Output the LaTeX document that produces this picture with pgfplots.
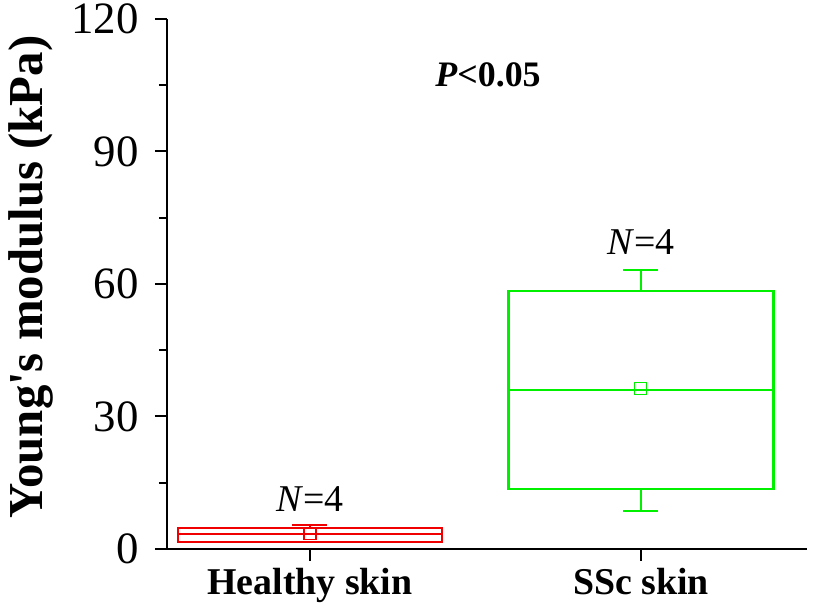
\documentclass[border=0pt]{standalone}
\usepackage{pgfplots}
\pgfplotsset{compat=1.18}
\usepackage{fontspec}
\setmainfont{Liberation Serif}
\definecolor{bred}{RGB}{240,0,0}
\definecolor{bgreen}{RGB}{0,240,0}
\begin{document}
\begin{tikzpicture}
\begin{axis}[name=ax, scale only axis, width=640bp, height=530bp,
  xmin=0.568, xmax=2.502, ymin=0, ymax=120,
  axis x line*=bottom, axis y line*=left,
  axis line style={line width=2.8bp, black},
  ytick={0,30,60,90,120}, minor ytick={15,45,75,105},
  xtick={1,2}, xticklabels={Healthy skin, SSc skin},
  tick align=outside, major tick length=12bp, minor tick length=8bp,
  every tick/.style={line width=2bp, black},
  /pgf/number format/assume math mode=true,
  yticklabel style={font=\fontsize{45}{45}\selectfont, xshift=-13bp},
  xticklabel style={font=\fontsize{38}{38}\selectfont\bfseries, yshift=-4bp},
  ylabel={Young\textquotesingle s modulus (kPa)},
  ylabel style={font=\fontsize{49}{49}\selectfont\bfseries,
    at={(axis description cs:-0.212,0.513)}, anchor=center},
  clip=false,
]
% Healthy skin: box (q1, q3), median, whiskers
\addplot[draw=bred, line width=2bp] coordinates {(0.6,1.6) (1.4,1.6) (1.4,4.8) (0.6,4.8)} -- cycle;
\addplot[draw=bred, line width=2bp] coordinates {(0.6,3.4) (1.4,3.4)};
\addplot[draw=bred, line width=2bp] coordinates {(1,4.8) (1,5.4)};
\addplot[draw=bred, line width=2bp] coordinates {(0.947,5.4) (1.053,5.4)};
\addplot[only marks, mark=square, mark size=6bp, bred, line width=1.2bp] coordinates {(1,3.6)};
% SSc skin
\addplot[draw=bgreen, line width=2.6bp] coordinates {(1.6,13.6) (2.4,13.6) (2.4,58.4) (1.6,58.4)} -- cycle;
\addplot[draw=bgreen, line width=2.6bp] coordinates {(1.6,36.0) (2.4,36.0)};
\addplot[draw=bgreen, line width=2.6bp] coordinates {(2,58.4) (2,63.2)};
\addplot[draw=bgreen, line width=2.6bp] coordinates {(1.947,63.2) (2.053,63.2)};
\addplot[draw=bgreen, line width=2.6bp] coordinates {(2,13.6) (2,8.6)};
\addplot[draw=bgreen, line width=2.6bp] coordinates {(1.947,8.6) (2.053,8.6)};
\addplot[only marks, mark=square, mark size=6bp, bgreen, line width=1.2bp] coordinates {(2,36.3)};
\node[font=\fontsize{38}{38}\selectfont] at (axis cs:1,11.3) {\textit{N}=4};
\node[font=\fontsize{38}{38}\selectfont] at (axis cs:2,69.5) {\textit{N}=4};
\node[font=\fontsize{36}{36}\selectfont\bfseries] at (axis cs:1.538,107.3) {\textit{P}<0.05};
\end{axis}
\pgfresetboundingbox
\path ([xshift=-167bp,yshift=-61bp]ax.south west) rectangle ([xshift=8bp,yshift=19bp]ax.north east);
\end{tikzpicture}
\end{document}
